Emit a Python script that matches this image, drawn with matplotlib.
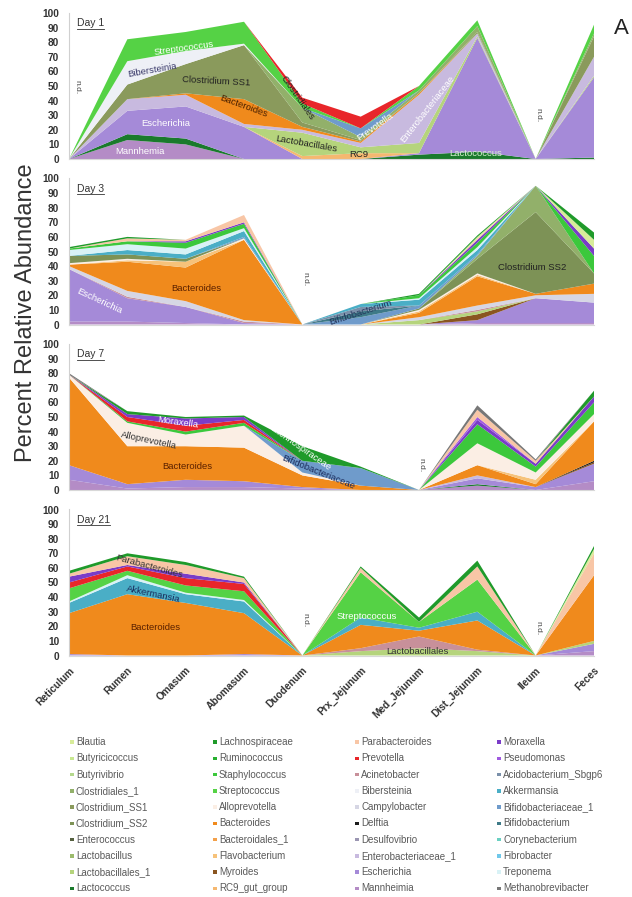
import numpy as np
import matplotlib
matplotlib.use('Agg')
import matplotlib.pyplot as plt
from matplotlib.patches import Rectangle
from matplotlib.lines import Line2D

plt.rcParams['font.family'] = ['Liberation Sans', 'DejaVu Sans']

SITES = ['Reticulum', 'Rumen', 'Omasum', 'Abomasum', 'Duodenum',
         'Prx_Jejunum', 'Med_Jejunum', 'Dist_Jejunum', 'Ileum', 'Feces']

LEGEND_TAXA = [
    'Blautia', 'Butyricicoccus', 'Butyrivibrio', 'Clostridiales_1', 'Clostridium_SS1',
    'Clostridium_SS2', 'Enterococcus', 'Lactobacillus', 'Lactobacillales_1', 'Lactococcus',
    'Lachnospiraceae', 'Ruminococcus', 'Staphylococcus', 'Streptococcus', 'Alloprevotella',
    'Bacteroides', 'Bacteroidales_1', 'Flavobacterium', 'Myroides', 'RC9_gut_group',
    'Parabacteroides', 'Prevotella', 'Acinetobacter', 'Bibersteinia', 'Campylobacter',
    'Delftia', 'Desulfovibrio', 'Enterobacteriaceae_1', 'Escherichia', 'Mannheimia',
    'Moraxella', 'Pseudomonas', 'Acidobacterium_Sbgp6', 'Akkermansia', 'Bifidobacteriaceae_1',
    'Bifidobacterium', 'Corynebacterium', 'Fibrobacter', 'Treponema', 'Methanobrevibacter']

COLORS = {
    'Blautia': '#d8ec9a', 'Butyricicoccus': '#c8e890', 'Butyrivibrio': '#b4d88c',
    'Clostridiales_1': '#92b06a', 'Clostridium_SS1': '#8a9a5c', 'Clostridium_SS2': '#7d9256',
    'Enterococcus': '#55603f', 'Lactobacillus': '#9cbb6c', 'Lactobacillales_1': '#b5d47c',
    'Lactococcus': '#1a7a2c', 'Lachnospiraceae': '#1f9a2a', 'Ruminococcus': '#28b030',
    'Staphylococcus': '#3cc83c', 'Streptococcus': '#55d245', 'Alloprevotella': '#fbeee4',
    'Bacteroides': '#f08a1c', 'Bacteroidales_1': '#f3a04a', 'Flavobacterium': '#f6c27a',
    'Myroides': '#8a5520', 'RC9_gut_group': '#f5b870', 'Parabacteroides': '#f8c6a6',
    'Prevotella': '#e8262a', 'Acinetobacter': '#c8909a', 'Bibersteinia': '#eef0f6',
    'Campylobacter': '#d6d6e4', 'Delftia': '#1c1c1c', 'Desulfovibrio': '#9b96b2',
    'Enterobacteriaceae_1': '#c8badf', 'Escherichia': '#a58ad8', 'Mannheimia': '#b48cc6',
    'Moraxella': '#7a3cc8', 'Pseudomonas': '#a05ae0', 'Acidobacterium_Sbgp6': '#7a90aa',
    'Akkermansia': '#4aaec6', 'Bifidobacteriaceae_1': '#6f9bcb', 'Bifidobacterium': '#3e7a88',
    'Corynebacterium': '#6ad0c2', 'Fibrobacter': '#70c8ea', 'Treponema': '#d8f2f6',
    'Methanobrevibacter': '#777777'}

STACK_ORDER = [
    'Mannheimia', 'Lactococcus', 'Escherichia', 'Myroides', 'Delftia', 'Desulfovibrio',
    'RC9_gut_group', 'Lactobacillales_1', 'Lactobacillus', 'Acinetobacter',
    'Enterobacteriaceae_1', 'Campylobacter', 'Bacteroides', 'Bacteroidales_1',
    'Flavobacterium', 'Alloprevotella', 'Clostridium_SS1', 'Clostridium_SS2',
    'Clostridiales_1', 'Enterococcus', 'Bibersteinia', 'Bifidobacteriaceae_1',
    'Bifidobacterium', 'Acidobacterium_Sbgp6', 'Akkermansia', 'Corynebacterium',
    'Fibrobacter', 'Treponema', 'Staphylococcus', 'Streptococcus', 'Prevotella',
    'Moraxella', 'Pseudomonas', 'Parabacteroides', 'Butyrivibrio', 'Butyricicoccus',
    'Blautia', 'Ruminococcus', 'Lachnospiraceae', 'Methanobrevibacter']

# values per site (Reticulum ... Feces); taxa not listed are 0
DAY1 = {
    'Mannheimia':           [0, 13, 10, 0, 0, 0, 0, 0, 0, 0],
    'Lactococcus':          [0, 4, 4, 0, 0, 0, 3, 5, 0, 1],
    'Escherichia':          [0, 16, 22, 22, 0, 0, 1, 78, 0, 55],
    'RC9_gut_group':        [0, 0, 0, 0, 2, 4, 0, 0, 0, 0],
    'Lactobacillales_1':    [0, 0, 0, 0, 16, 4, 7, 1, 0, 1],
    'Enterobacteriaceae_1': [0, 8, 8, 2, 2, 3, 33, 2, 0, 13],
    'Bacteroides':          [0, 0, 1, 17, 2, 1, 1, 0, 0, 0],
    'Clostridium_SS1':      [0, 10, 20, 37, 3, 1, 0, 1, 0, 14],
    'Clostridiales_1':      [0, 0, 0, 0, 10, 2, 2, 4, 0, 2],
    'Bibersteinia':         [0, 16, 9, 1, 0, 0, 0, 0, 0, 0],
    'Bifidobacteriaceae_1': [0, 0, 0, 0, 0, 6, 0, 0, 0, 0],
    'Streptococcus':        [0, 15, 13, 15, 3, 0, 3, 4, 0, 6],
    'Prevotella':           [0, 0, 0, 0, 4, 8, 0, 0, 0, 0],
}

DAY3 = {
    'Mannheimia':           [2, 2, 1, 0, 0, 0, 0, 1, 1, 1],
    'Escherichia':          [36, 16, 11, 1, 0, 0, 0, 2, 17, 14],
    'Myroides':             [0, 0, 0, 0, 0, 0, 0, 4, 0, 0],
    'Lactobacillales_1':    [0, 0, 0, 0, 0, 0, 3, 2, 0, 0],
    'Acinetobacter':        [0, 1, 0, 1, 0, 0, 0, 1, 0, 0],
    'Campylobacter':        [2, 4, 4, 1, 0, 0, 2, 3, 2, 6],
    'Bacteroides':          [1, 20, 23, 55, 0, 0, 3, 20, 1, 7],
    'Flavobacterium':       [0, 1, 4, 0, 0, 0, 1, 1, 0, 0],
    'Alloprevotella':       [1, 1, 0, 1, 0, 0, 1, 1, 0, 0],
    'Clostridium_SS2':      [5, 3, 2, 0, 0, 0, 1, 10, 56, 7],
    'Clostridiales_1':      [0, 0, 0, 0, 0, 0, 0, 2, 18, 0],
    'Bifidobacteriaceae_1': [0, 0, 0, 1, 0, 5, 2, 1, 0, 0],
    'Bifidobacterium':      [0, 0, 0, 0, 0, 4, 0, 0, 0, 0],
    'Acidobacterium_Sbgp6': [0, 0, 0, 0, 0, 3, 0, 0, 0, 0],
    'Akkermansia':          [0, 3, 3, 4, 0, 2, 4, 3, 0, 0],
    'Treponema':            [4, 4, 4, 2, 0, 0, 1, 2, 0, 0],
    'Staphylococcus':       [1, 2, 4, 3, 0, 0, 2, 3, 0, 12],
    'Moraxella':            [0, 0, 1, 1, 0, 0, 0, 2, 0, 5],
    'Parabacteroides':      [0, 2, 1, 5, 0, 0, 0, 1, 0, 0],
    'Blautia':              [0, 0, 0, 0, 0, 0, 0, 1, 0, 6],
    'Lachnospiraceae':      [1, 1, 0, 0, 0, 0, 1, 1, 0, 5],
}

DAY7 = {
    'Mannheimia':           [7, 1, 2, 2, 1, 0, 0, 3, 0, 6],
    'Lactococcus':          [0, 0, 0, 0, 0, 0, 0, 1, 0, 0],
    'Escherichia':          [10, 3, 5, 4, 1, 0, 0, 4, 2, 12],
    'Myroides':             [0, 0, 0, 0, 0, 0, 0, 0, 0, 1],
    'Delftia':              [0, 0, 0, 0, 0, 0, 0, 0, 0, 1],
    'Enterobacteriaceae_1': [0, 0, 0, 0, 0, 0, 0, 2, 0, 0],
    'Bacteroides':          [60, 26, 23, 23, 8, 3, 0, 7, 2, 27],
    'Flavobacterium':       [0, 0, 0, 0, 0, 0, 0, 0, 3, 0],
    'Alloprevotella':       [2, 16, 8, 15, 2, 0, 0, 15, 5, 5],
    'Bifidobacteriaceae_1': [0, 0, 0, 0, 8, 12, 0, 0, 0, 0],
    'Staphylococcus':       [0, 1, 2, 2, 0, 0, 0, 13, 4, 8],
    'Prevotella':           [0, 3, 4, 2, 0, 0, 0, 0, 0, 0],
    'Moraxella':            [0, 2, 5, 2, 0, 0, 0, 3, 2, 4],
    'Pseudomonas':          [0, 0, 0, 0, 0, 0, 0, 2, 0, 0],
    'Parabacteroides':      [0, 0, 0, 0, 0, 0, 0, 5, 2, 0],
    'Lachnospiraceae':      [0, 2, 1, 1, 10, 1, 0, 0, 0, 4],
    'Methanobrevibacter':   [1, 0, 0, 0, 0, 0, 0, 3, 1, 0],
}

DAY21 = {
    'Mannheimia':           [0, 0, 0, 0, 0, 0, 0, 0, 0, 3],
    'Escherichia':          [1, 0, 0, 1, 0, 0, 0, 0, 0, 5],
    'Lactobacillales_1':    [0, 0, 0, 0, 0, 3, 5, 3, 0, 2],
    'Acinetobacter':        [0, 0, 0, 0, 0, 2, 8, 1, 0, 0],
    'Bacteroides':          [28, 42, 36, 28, 0, 16, 4, 20, 0, 45],
    'Akkermansia':          [7, 11, 6, 8, 0, 5, 2, 6, 0, 0],
    'Treponema':            [1, 2, 1, 1, 0, 0, 0, 0, 0, 0],
    'Streptococcus':        [9, 3, 5, 6, 0, 31, 4, 22, 0, 0],
    'Prevotella':           [4, 3, 5, 5, 0, 0, 0, 0, 0, 0],
    'Moraxella':            [4, 1, 3, 1, 0, 0, 0, 0, 0, 0],
    'Parabacteroides':      [2, 6, 6, 3, 0, 3, 0, 9, 0, 15],
    'Blautia':              [0, 0, 0, 0, 0, 0, 0, 0, 0, 3],
    'Lachnospiraceae':      [2, 2, 2, 1, 0, 1, 3, 4, 0, 2],
}

ND1 = [(0, 49), (8, 30)]
ND3 = [(4, 31)]
ND7 = [(6, 17)]
ND21 = [(4, 24), (8, 19)]

LABELS1 = [('Streptococcus', 1.96, 76, 8, 'white'),
           ('Bibersteinia', 1.42, 61, 10, '#3a3a6a'),
           ('Clostridium SS1', 2.53, 53, -3, '#222222'),
           ('Bacteroides', 2.99, 36, -20, '#4a2000'),
           ('Escherichia', 1.65, 24, 0, 'white'),
           ('Mannhemia', 1.22, 5, 0, 'white'),
           ('Clostridiales', 3.92, 42, -55, '#222222'),
           ('Lactobacillales', 4.07, 10, -10, '#222222'),
           ('RC9', 4.97, 3, 0, '#222222'),
           ('Prevotella', 5.25, 22, 35, 'white'),
           ('Enterobacteriaceae', 6.14, 34, 52, 'white'),
           ('Lactococcus', 6.97, 3.5, 0, '#d8f0d0')]
LABELS3 = [('Bacteroides', 2.19, 25, 0, '#5a2000'),
           ('Escherichia', 0.53, 16, -25, 'white'),
           ('Clostridium SS2', 7.94, 39, 0, '#222222'),
           ('Bifidobacterium', 5.0, 8, 18, '#22335a')]
LABELS7 = [('Moraxella', 1.86, 46, -8, 'white'),
           ('Alloprevotella', 1.37, 34, -12, '#333333'),
           ('Bacteroides', 2.03, 16, 0, '#5a2000'),
           ('Lachnospiraceae', 3.97, 29, -35, 'white'),
           ('Bifidobacteriaceae', 4.28, 12, -22, '#1a2a5a')]
LABELS21 = [('Parabacteroides', 1.37, 61, -15, '#333333'),
            ('Akkermansia', 1.44, 42, -12, '#1a2a5a'),
            ('Bacteroides', 1.48, 19, 0, '#5a2000'),
            ('Streptococcus', 5.1, 27, 0, 'white'),
            ('Lactobacillales', 5.98, 3, 0, '#333333')]

PANELS = [('Day 1', DAY1, ND1, LABELS1),
          ('Day 3', DAY3, ND3, LABELS3),
          ('Day 7', DAY7, ND7, LABELS7),
          ('Day 21', DAY21, ND21, LABELS21)]

W, H = 632, 897
fig = plt.figure(figsize=(W / 100, H / 100), dpi=100)


def fx(px):
    return px / W


def fy(py):
    return 1 - py / H


ax_left, ax_right = 69, 594
tops = [13, 178.5, 344, 509.5]
ax_h = 146
x = np.arange(len(SITES))
day_texts = []
axes = []
for i, (title, data, nd, labels) in enumerate(PANELS):
    top = tops[i]
    ax = fig.add_axes([fx(ax_left), fy(top + ax_h), fx(ax_right - ax_left), ax_h / H])
    axes.append(ax)
    keys = [k for k in STACK_ORDER if k in data]
    ys = [np.array(data[k], dtype=float) for k in keys]
    ax.stackplot(x, *ys, colors=[COLORS[k] for k in keys], linewidth=0.0)
    ax.set_xlim(0, len(SITES) - 1)
    ax.set_ylim(0, 100)
    ax.set_yticks(np.arange(0, 101, 10))
    ax.set_yticklabels([str(v) for v in range(0, 101, 10)], fontsize=7.3,
                       fontweight='bold', color='#333333')
    ax.tick_params(axis='y', length=0, pad=7)
    ax.set_xticks(x)
    if i == 3:
        ax.set_xticklabels(SITES, rotation=45, ha='right', va='top', rotation_mode='anchor',
                           fontsize=7.3, fontweight='bold', color='#333333')
        ax.tick_params(axis='x', length=0, pad=7)
    else:
        ax.set_xticklabels([])
        ax.tick_params(axis='x', length=0)
    for s in ['top', 'right']:
        ax.spines[s].set_visible(False)
    ax.spines['left'].set_color('#d0d0d0')
    ax.spines['bottom'].set_color('#d8d8d8')
    ax.spines['left'].set_linewidth(0.8)
    ax.spines['bottom'].set_linewidth(0.8)
    t = ax.text(0.015, 0.965, title, transform=ax.transAxes, fontsize=7.5,
                color='#333333', ha='left', va='top')
    day_texts.append(t)
    for (xi, yv) in nd:
        off = 0.13 if xi == 0 else 0.04
        ax.text(xi + off, yv, 'n.d.', rotation=270, fontsize=6, color='#444444',
                ha='center', va='center')
    for (txt, lx, ly, rot, col) in labels:
        ax.text(lx, ly, txt, rotation=rot, fontsize=6.8, color=col,
                ha='center', va='center', rotation_mode='anchor')

fig.text(fx(26), fy(313), 'Percent Relative Abundance', rotation=90, fontsize=17,
         color='#333333', ha='center', va='center')
fig.text(fx(621), fy(28), 'A', fontsize=16, color='#222222', ha='center', va='center')

# legend
col_x = [72, 215, 357, 499]
row_y0, row_dy = 742, 16.25
for j, name in enumerate(LEGEND_TAXA):
    c, r = divmod(j, 10)
    xm, ym = col_x[c], row_y0 + r * row_dy
    fig.patches.append(Rectangle((fx(xm - 1.75), fy(ym + 1.75)), 3.5 / W, 3.5 / H,
                                 transform=fig.transFigure, facecolor=COLORS[name],
                                 edgecolor='none'))
    fig.text(fx(xm + 4), fy(ym), name, fontsize=7, color='#5a5a5a',
             ha='left', va='center')

# underline the day titles
fig.canvas.draw()
r = fig.canvas.get_renderer()
for t in day_texts:
    bb = t.get_window_extent(renderer=r)
    yline = bb.y0 - 0.5
    fig.add_artist(Line2D([bb.x0 / (W), bb.x1 / (W)], [yline / H, yline / H],
                          transform=fig.transFigure, color='#333333', linewidth=0.6))

fig.savefig('out.png', dpi=100)
